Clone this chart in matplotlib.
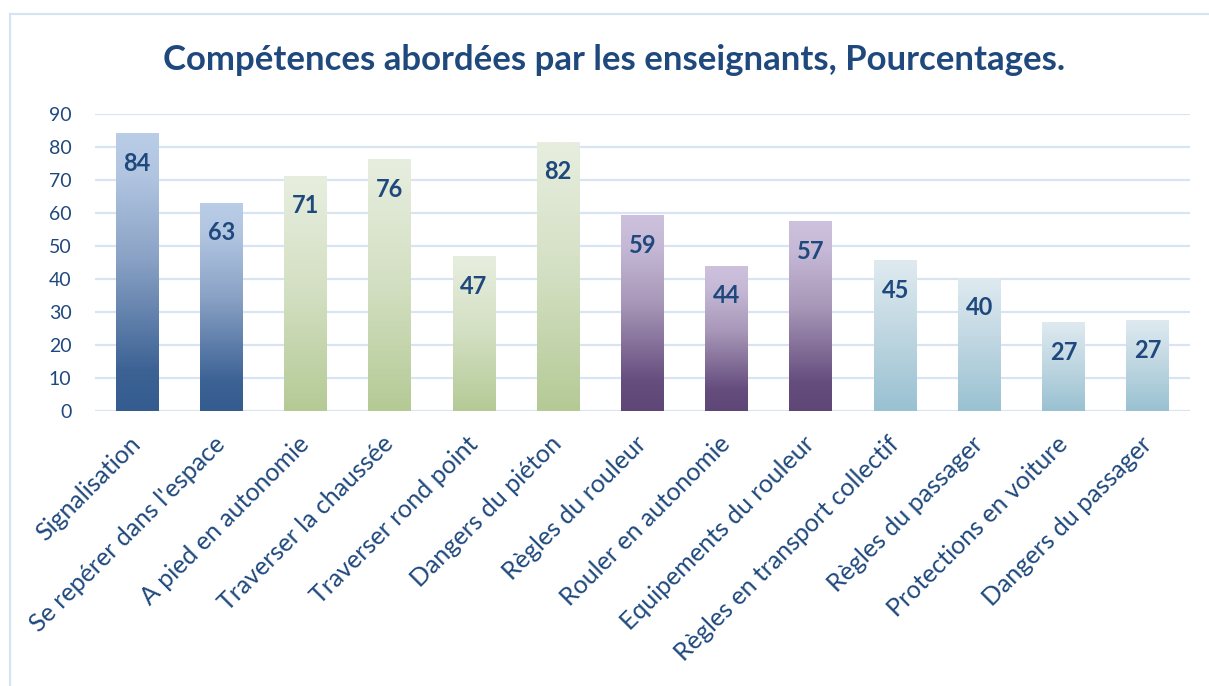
import numpy as np
import matplotlib
matplotlib.use("Agg")
import matplotlib.pyplot as plt
from matplotlib.colors import LinearSegmentedColormap
from matplotlib.lines import Line2D
import matplotlib.transforms as mtransforms

categories = ["Signalisation", "Se repérer dans l'espace", "A pied en autonomie",
              "Traverser la chaussée", "Traverser rond point", "Dangers du piéton",
              "Règles du rouleur", "Rouler en autonomie", "Equipements du rouleur",
              "Règles en transport collectif", "Règles du passager",
              "Protections en voiture", "Dangers du passager"]
values = [84.0, 63.0, 71.2, 76.1, 46.7, 81.5, 59.1, 43.9, 57.3, 45.5, 40.3, 26.7, 27.3]
labels = ["84", "63", "71", "76", "47", "82", "59", "44", "57", "45", "40", "27", "27"]
groups = ["blue", "blue", "green", "green", "green", "green",
          "purple", "purple", "purple", "lblue", "lblue", "lblue", "lblue"]
yticks = [0, 10, 20, 30, 40, 50, 60, 70, 80, 90]
title = "Compétences abordées par les enseignants, Pourcentages."

gradients = {
    "blue": [(0.0, "#355c8f"), (0.15, "#3d6395"), (0.55, "#8aa2c5"), (0.85, "#b1c5e1"), (1.0, "#b9cde7")],
    "green": [(0.0, "#b4ca95"), (0.5, "#d3dfc2"), (1.0, "#e7eedf")],
    "purple": [(0.0, "#5e4777"), (0.15, "#654d7e"), (0.55, "#a897b8"), (0.85, "#c6b9d7"), (1.0, "#cdc1dd")],
    "lblue": [(0.0, "#99c1d1"), (0.5, "#bed6e1"), (1.0, "#dfeaf0")],
}
cmaps = {k: LinearSegmentedColormap.from_list(k, v) for k, v in gradients.items()}

text_color = "#1f497d"
plt.rcParams['font.family'] = ['Lato', 'DejaVu Sans']

W, H = 1209, 686
fig = plt.figure(figsize=(W / 100, H / 100), dpi=100)
ax = fig.add_axes([95 / W, 1 - 411 / H, (1190 - 95) / W, (411 - 114) / H])

x = np.arange(len(categories))
bw = 0.51
grad = np.linspace(0, 1, 256).reshape(-1, 1)
bars = ax.bar(x, values, width=bw, color="none", edgecolor="none", zorder=2)
for xi, v, g, lab in zip(x, values, groups, labels):
    ax.imshow(grad, extent=(xi - bw / 2, xi + bw / 2, 0, v), origin="lower",
              aspect="auto", cmap=cmaps[g], zorder=2, interpolation="bilinear")
    ax.annotate(lab, xy=(xi, v), xytext=(0, -21.5), textcoords="offset points",
                ha="center", va="center", fontsize=17, fontweight="bold",
                color=text_color, zorder=3)

ax.set_xlim(-0.5, len(categories) - 0.5)
ax.set_ylim(0, 90)
ax.set_yticks(yticks)
ax.set_yticklabels([str(t) for t in yticks], fontsize=14, color=text_color)
ax.set_xticks(x)
ax.set_xticklabels(categories, rotation=45, ha="right", va="center",
                   rotation_mode="anchor", fontsize=18, color=text_color)
offset = mtransforms.ScaledTranslation(-12 / 100, 0, fig.dpi_scale_trans)
for t in ax.get_xticklabels():
    t.set_transform(t.get_transform() + offset)
ax.tick_params(axis="both", length=0)
ax.tick_params(axis="y", pad=17)
ax.tick_params(axis="x", pad=21)
for s in ax.spines.values():
    s.set_visible(False)
ax.set_axisbelow(True)
ax.yaxis.grid(True, color="#d9e4f2", linewidth=1.6)
ax.xaxis.grid(False)

fig.text(614 / W, 1 - 60 / H, title, ha="center", va="center", fontsize=25,
         fontweight="bold", color=text_color)

border = "#d6e3f3"
fig.add_artist(Line2D([9.5 / W, 9.5 / W], [0, 1 - 14 / H], transform=fig.transFigure,
                      color=border, linewidth=1.5))
fig.add_artist(Line2D([9.5 / W, 1], [1 - 14 / H, 1 - 14 / H], transform=fig.transFigure,
                      color=border, linewidth=1.5))

fig.savefig("out.png", dpi=100)
